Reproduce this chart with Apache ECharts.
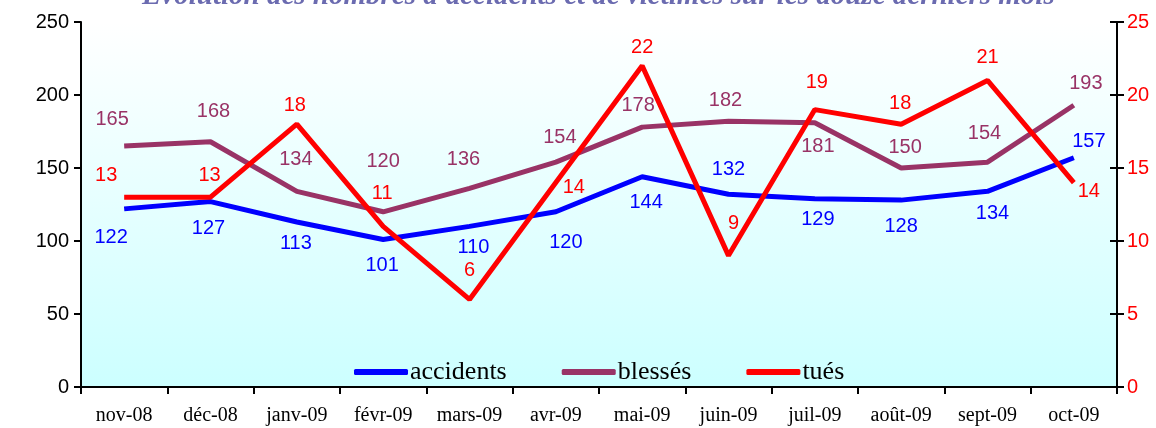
<!DOCTYPE html>
<html><head><meta charset="utf-8">
<script src="https://cdn.jsdelivr.net/npm/echarts@6/dist/echarts.min.js"></script>
<style>html,body{margin:0;padding:0;background:#fff}#c{width:1156px;height:428px}</style>
</head><body><div id="c"></div>
<script>
const months = ['nov-08','déc-08','janv-09','févr-09','mars-09','avr-09','mai-09','juin-09','juil-09','août-09','sept-09','oct-09'];
const accidents = [122,127,113,101,110,120,144,132,129,128,134,157];
const blesses = [165,168,134,120,136,154,178,182,181,150,154,193];
const tues = [13,13,18,11,6,14,22,9,19,18,21,14];
const leftTicks = {min:0, max:250, interval:50};
const rightTicks = {min:0, max:25, interval:5};
const titleText = "Evolution des nombres d'accidents et de victimes sur les douze derniers mois";

// label offsets (styling, relative to each point)
const offAcc = [[-13,29],[-2,27],[-1,21],[-1,26],[4,21],[10,31],[4,26],[0,-25],[3,21],[0,26],[5,22],[15,-16]];
const offBle = [[-12,-27],[3,-30],[-1,-32],[0,-50],[-6,-29],[4,-25],[-4,-22],[-3,-21],[3,24],[4,-21],[-3,-29],[12,-22]];
const offTue = [[-18,-22],[-1,-22],[-2,-19],[-1,-33],[0,-29],[18,5],[0,-18],[5,-32],[2,-27],[-1,-21],[0,-23],[15,9]];

function mk(vals, offs){
  return vals.map((v,i)=>({value:v, label:{offset:offs[i]}}));
}
const labelFont = {fontFamily:'Liberation Sans, Arial, sans-serif', fontSize:20};

const chart = echarts.init(document.getElementById('c'));
chart.setOption({
  animation:false,
  title:{text:titleText, left:137, top:-23,
    textStyle:{fontFamily:'Liberation Serif, Times New Roman, serif', fontStyle:'italic', fontWeight:'bold', fontSize:29, color:'#6b6bb0'}},
  grid:{left:81, right:39, top:22, bottom:41, show:true, borderWidth:0,
    backgroundColor:{type:'linear', x:0, y:0, x2:0, y2:1, colorStops:[{offset:0,color:'#ffffff'},{offset:1,color:'#ccffff'}]}},
  legend:{bottom:38, left:349, itemWidth:54, itemHeight:6, itemGap:55, icon:'roundRect',
    textStyle:{fontFamily:'Liberation Serif, Times New Roman, serif', fontSize:26, color:'#000', padding:[0,0,0,-3]},
    data:['accidents','blessés','tués']},
  xAxis:{type:'category', data:months, boundaryGap:true,
    axisLine:{lineStyle:{color:'#000', width:2}},
    axisTick:{show:true, length:7, lineStyle:{color:'#000', width:2}},
    axisLabel:{color:'#000', fontFamily:'Liberation Serif, Times New Roman, serif', fontSize:20, margin:19}},
  yAxis:[
    {type:'value', min:leftTicks.min, max:leftTicks.max, interval:leftTicks.interval,
     splitLine:{show:false},
     axisLine:{show:true, lineStyle:{color:'#000', width:2}},
     axisTick:{show:true, length:7, lineStyle:{color:'#000', width:2}},
     axisLabel:{color:'#000', fontFamily:'Liberation Sans, Arial, sans-serif', fontSize:20, margin:12}},
    {type:'value', min:rightTicks.min, max:rightTicks.max, interval:rightTicks.interval, position:'right',
     splitLine:{show:false},
     axisLine:{show:true, lineStyle:{color:'#000', width:2}},
     axisTick:{show:true, length:7, lineStyle:{color:'#000', width:2}},
     axisLabel:{color:'#ff0000', fontFamily:'Liberation Sans, Arial, sans-serif', fontSize:20, margin:10}},
    {type:'value', min:rightTicks.min, max:rightTicks.max, interval:rightTicks.interval, position:'right',
     splitLine:{show:false}, axisLine:{show:false}, axisLabel:{show:false},
     axisTick:{show:true, inside:true, length:7, lineStyle:{color:'#000', width:2}}}
  ],
  series:[
    {name:'accidents', type:'line', data:mk(accidents, offAcc), symbol:'circle', symbolSize:0.1,
     itemStyle:{color:'#0000ff'}, lineStyle:{color:'#0000ff', width:5},
     label:{show:true, position:'inside', color:'#0000ff', ...labelFont}, z:3},
    {name:'blessés', type:'line', data:mk(blesses, offBle), symbol:'circle', symbolSize:0.1,
     itemStyle:{color:'#993366'}, lineStyle:{color:'#993366', width:5},
     label:{show:true, position:'inside', color:'#993366', ...labelFont}, z:2},
    {name:'tués', type:'line', yAxisIndex:1, data:mk(tues, offTue), symbol:'circle', symbolSize:0.1,
     itemStyle:{color:'#ff0000'}, lineStyle:{color:'#ff0000', width:5},
     label:{show:true, position:'inside', color:'#ff0000', ...labelFont}, z:4}
  ]
});
</script></body></html>
